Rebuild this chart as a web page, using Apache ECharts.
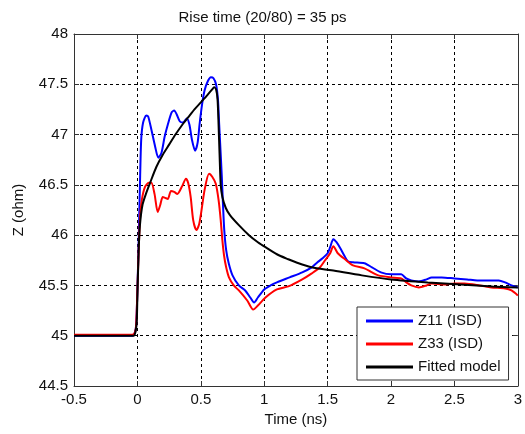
<!DOCTYPE html>
<html>
<head>
<meta charset="utf-8">
<script src="https://cdn.jsdelivr.net/npm/echarts@6/dist/echarts.min.js"></script>
<style>
html,body{margin:0;padding:0;background:#fff;}
#chart{width:525px;height:434px;}
</style>
</head>
<body>
<div id="chart"></div>
<script>
// Time (ns), Z (ohm)
var z11 = [[-0.5,45.0],[-0.3,45.0],[-0.1,45.0],[-0.04,45.0],[-0.02,45.03],[-0.01,45.1],[0.0,45.45],[0.01,45.95],[0.02,46.5],[0.03,46.95],[0.045,47.12],[0.07,47.19],[0.085,47.18],[0.11,47.05],[0.14,46.88],[0.165,46.77],[0.19,46.82],[0.215,46.98],[0.24,47.1],[0.27,47.22],[0.29,47.24],[0.31,47.2],[0.335,47.13],[0.36,47.12],[0.39,47.16],[0.41,47.1],[0.43,46.95],[0.455,46.84],[0.475,46.92],[0.49,47.1],[0.51,47.3],[0.53,47.44],[0.555,47.53],[0.58,47.57],[0.6,47.56],[0.62,47.5],[0.635,47.35],[0.645,47.1],[0.655,46.85],[0.665,46.6],[0.675,46.3],[0.685,46.05],[0.7,45.85],[0.72,45.72],[0.75,45.6],[0.8,45.5],[0.85,45.45],[0.89,45.38],[0.92,45.33],[0.95,45.38],[1.0,45.46],[1.05,45.5],[1.1,45.53],[1.2,45.58],[1.3,45.63],[1.375,45.68],[1.42,45.73],[1.46,45.77],[1.5,45.82],[1.52,45.88],[1.545,45.96],[1.57,45.93],[1.6,45.87],[1.63,45.8],[1.66,45.74],[1.7,45.73],[1.79,45.72],[1.85,45.68],[1.92,45.63],[2.0,45.61],[2.08,45.61],[2.12,45.57],[2.16,45.55],[2.22,45.54],[2.28,45.56],[2.32,45.58],[2.4,45.58],[2.5,45.57],[2.6,45.56],[2.68,45.55],[2.75,45.55],[2.85,45.55],[2.9,45.53],[2.95,45.5],[3.0,45.48]];

var z33 = [[-0.5,45.01],[-0.1,45.01],[-0.04,45.01],[-0.02,45.03],[-0.01,45.1],[0.0,45.45],[0.01,45.85],[0.02,46.15],[0.035,46.35],[0.06,46.48],[0.09,46.52],[0.11,46.52],[0.135,46.41],[0.16,46.23],[0.18,46.3],[0.2,46.38],[0.22,46.37],[0.24,46.36],[0.265,46.44],[0.29,46.43],[0.315,46.41],[0.35,46.48],[0.383,46.56],[0.4,46.52],[0.42,46.38],[0.44,46.15],[0.465,46.05],[0.485,46.1],[0.5,46.2],[0.53,46.45],[0.565,46.61],[0.59,46.58],[0.618,46.51],[0.64,46.35],[0.657,46.15],[0.67,45.95],[0.683,45.8],[0.7,45.68],[0.722,45.58],[0.76,45.5],[0.8,45.45],[0.866,45.35],[0.913,45.26],[0.95,45.3],[1.01,45.38],[1.1,45.46],[1.19,45.49],[1.3,45.56],[1.375,45.62],[1.44,45.68],[1.48,45.75],[1.52,45.82],[1.545,45.89],[1.58,45.82],[1.637,45.76],[1.7,45.7],[1.79,45.67],[1.85,45.63],[1.9,45.6],[2.0,45.58],[2.08,45.57],[2.12,45.53],[2.16,45.5],[2.22,45.48],[2.28,45.5],[2.32,45.52],[2.42,45.51],[2.5,45.52],[2.58,45.52],[2.7,45.5],[2.79,45.48],[2.9,45.47],[2.95,45.45],[3.0,45.40]];

var fitted = [[-0.5,45.0],[-0.1,45.0],[-0.03,45.0],[-0.015,45.04],[-0.005,45.15],[0.0,45.4],[0.01,45.85],[0.02,46.1],[0.04,46.3],[0.07,46.42],[0.1,46.52],[0.15,46.68],[0.2,46.8],[0.25,46.9],[0.3,47.0],[0.35,47.09],[0.4,47.17],[0.45,47.25],[0.5,47.32],[0.55,47.39],[0.59,47.45],[0.605,47.47],[0.62,47.45],[0.632,47.35],[0.64,47.1],[0.648,46.8],[0.657,46.5],[0.67,46.38],[0.697,46.27],[0.73,46.2],[0.8,46.1],[0.88,46.0],[0.95,45.93],[1.01,45.88],[1.1,45.81],[1.19,45.76],[1.25,45.73],[1.375,45.68],[1.53,45.65],[1.77,45.6],[2.0,45.56],[2.29,45.53],[2.55,45.51],[2.8,45.49],[3.0,45.48]];

var seriesNames = ['Z11 (ISD)', 'Z33 (ISD)', 'Fitted model'];
var seriesColors = ['#0000ff', '#ff0000', '#000000'];
var titleText = 'Rise time (20/80) = 35 ps';
var xName = 'Time (ns)';
var yName = 'Z (ohm)';

var FONT = "'Liberation Sans', Arial, sans-serif";
var chart = echarts.init(document.getElementById('chart'), null, {renderer: 'canvas'});

function mkSeries(name, data, color) {
  return {
    name: name, type: 'line', data: data, showSymbol: false, symbol: 'none',
    smooth: 0.25, color: color, lineStyle: {width: 2, color: color}, animation: false,
    xAxisIndex: 0, yAxisIndex: 0
  };
}

var axisLineStyle = {show: true, onZero: false, lineStyle: {color: '#333', width: 1}};
var tickStyle = {show: true, inside: true, length: 5, lineStyle: {color: '#333'}};
var splitStyle = {show: true, lineStyle: {color: '#000', width: 1, type: [3, 3]}};
var labelStyle = {color: '#111', fontSize: 15, fontFamily: FONT};

chart.setOption({
  animation: false,
  backgroundColor: '#fff',
  title: {
    text: titleText, left: 'center', top: 5,
    textStyle: {fontSize: 15, fontWeight: 'normal', color: '#111', fontFamily: FONT}
  },
  grid: {left: 74, top: 34, right: 4, bottom: 48, containLabel: false},
  legend: {
    data: seriesNames, orient: 'vertical', left: 357, top: 307,
    icon: 'rect', itemWidth: 47, itemHeight: 3, itemGap: 7,
    padding: [6, 8, 5, 9],
    backgroundColor: '#fff', borderColor: '#333', borderWidth: 1,
    textStyle: {fontSize: 15, color: '#111', fontFamily: FONT, lineHeight: 16}
  },
  xAxis: [{
    type: 'value', min: -0.5, max: 3, interval: 0.5, position: 'bottom',
    name: xName, nameLocation: 'middle', nameGap: 26,
    nameTextStyle: {fontSize: 15, color: '#111', fontFamily: FONT},
    axisLine: axisLineStyle, axisTick: tickStyle, splitLine: splitStyle,
    axisLabel: Object.assign({margin: 6}, labelStyle)
  }, {
    type: 'value', min: -0.5, max: 3, interval: 0.5, position: 'top',
    axisLine: axisLineStyle, axisTick: tickStyle, splitLine: {show: false},
    axisLabel: {show: false}
  }],
  yAxis: [{
    type: 'value', min: 44.5, max: 48, interval: 0.5, position: 'left',
    name: yName, nameLocation: 'middle', nameGap: 48,
    nameTextStyle: {fontSize: 15, color: '#111', fontFamily: FONT},
    axisLine: axisLineStyle, axisTick: tickStyle, splitLine: splitStyle,
    axisLabel: Object.assign({margin: 6}, labelStyle)
  }, {
    type: 'value', min: 44.5, max: 48, interval: 0.5, position: 'right',
    axisLine: axisLineStyle, axisTick: tickStyle, splitLine: {show: false},
    axisLabel: {show: false}
  }],
  series: [
    mkSeries(seriesNames[0], z11, seriesColors[0]),
    mkSeries(seriesNames[1], z33, seriesColors[1]),
    mkSeries(seriesNames[2], fitted, seriesColors[2])
  ]
});
</script>
</body>
</html>
